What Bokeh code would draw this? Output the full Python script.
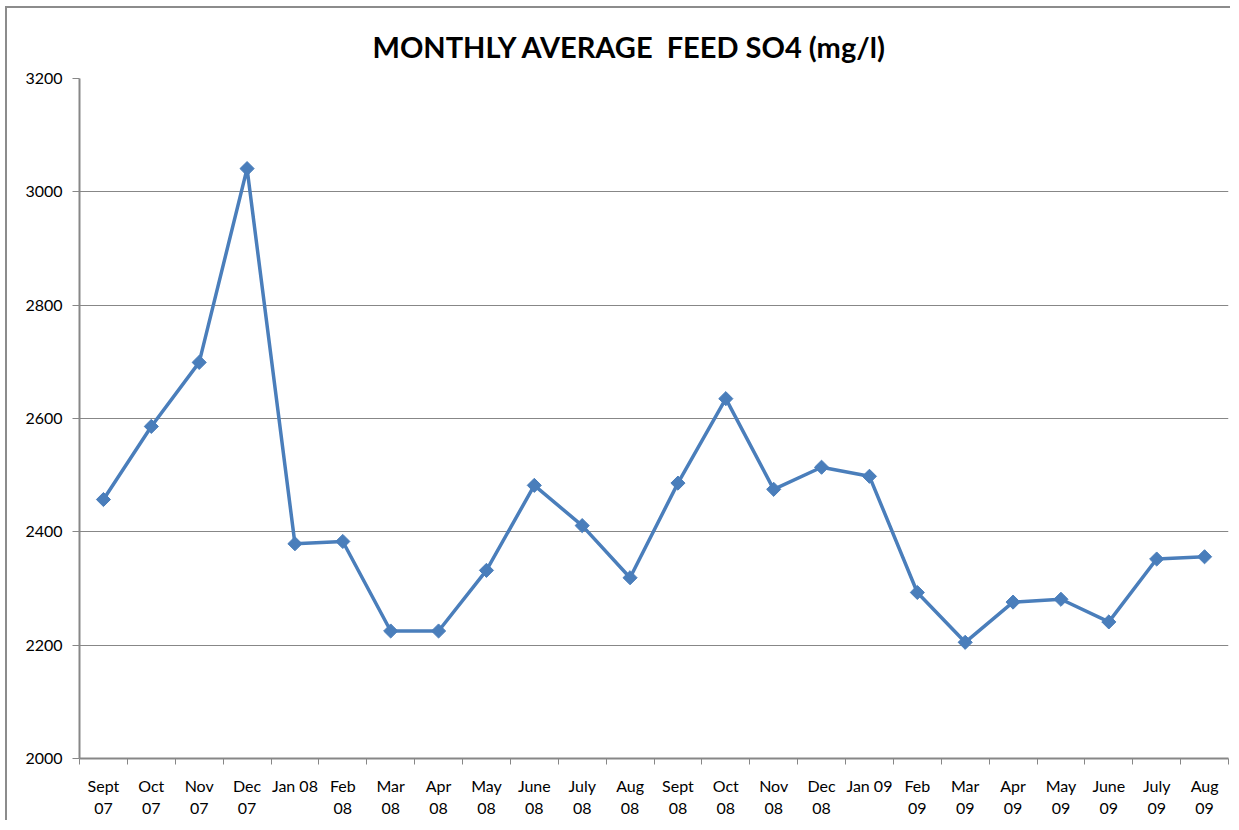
from bokeh.plotting import figure
from bokeh.models import FixedTicker, Range1d, Title, ColumnDataSource
from bokeh.embed import file_html
from bokeh.resources import INLINE

months = ["Sept\n07", "Oct\n07", "Nov\n07", "Dec\n07", "Jan 08", "Feb\n08", "Mar\n08", "Apr\n08",
          "May\n08", "June\n08", "July\n08", "Aug\n08", "Sept\n08", "Oct\n08", "Nov\n08", "Dec\n08",
          "Jan 09", "Feb\n09", "Mar\n09", "Apr\n09", "May\n09", "June\n09", "July\n09", "Aug\n09"]
so4 = [2457, 2586, 2699, 3041, 2379, 2383, 2225, 2225, 2332, 2482, 2411, 2319,
       2486, 2635, 2475, 2514, 2498, 2293, 2205, 2276, 2281, 2241, 2352, 2356]
y_ticks = [2000, 2200, 2400, 2600, 2800, 3000, 3200]
title = "MONTHLY AVERAGE\u00a0 FEED SO4 (mg/l)"

xs = [i + 0.5 for i in range(len(months))]
src = ColumnDataSource(dict(x=xs, y=so4))

FONT = "Lato"
GRAY = "#878787"
BLUE = "#4a7ebb"

p = figure(frame_width=1149, frame_height=680, output_backend="svg", toolbar_location=None,
           x_range=Range1d(0, len(months)), y_range=Range1d(2000, 3200),
           min_border_left=72, min_border_right=2, min_border_top=70, min_border_bottom=60)
p.styles = {"border-left": "2px solid #8c8c8c", "border-top": "2px solid #8c8c8c",
            "margin-left": "5px", "margin-top": "6px"}
p.outline_line_color = None
p.background_fill_color = "white"
p.border_fill_color = "white"

t = Title(text=title, align="left", offset=293,
          text_font=FONT, text_font_size="29px", text_font_style="bold", text_color="black",
          standoff=30)
p.add_layout(t, "above")

p.line("x", "y", source=src, line_color=BLUE, line_width=3.5)
p.scatter("x", "y", source=src, marker="square", angle=0.785398, size=10,
          fill_color=BLUE, line_color=BLUE)

# x axis
p.xaxis.ticker = FixedTicker(ticks=xs, minor_ticks=list(range(len(months) + 1)))
p.xaxis.major_label_overrides = {x: m for x, m in zip(xs, months)}
p.xaxis.major_tick_line_color = None
p.xaxis.minor_tick_line_color = GRAY
p.xaxis.minor_tick_out = 6
p.xaxis.minor_tick_in = 0
p.xaxis.major_label_standoff = 11
p.xaxis.axis_line_color = GRAY
p.xaxis.axis_line_width = 2
p.xaxis.major_label_text_font = FONT
p.xaxis.major_label_text_font_size = "16px"
p.xaxis.major_label_text_color = "black"
p.xaxis.major_label_text_align = "center"

# y axis
p.yaxis.ticker = FixedTicker(ticks=y_ticks, minor_ticks=[])
p.yaxis.axis_line_color = GRAY
p.yaxis.axis_line_width = 2
p.yaxis.major_tick_line_color = GRAY
p.yaxis.major_tick_out = 7
p.yaxis.major_tick_in = 0
p.yaxis.major_label_standoff = 10
p.yaxis.major_label_text_font = FONT
p.yaxis.major_label_text_font_size = "16px"
p.yaxis.major_label_text_color = "black"

p.xgrid.grid_line_color = None
p.ygrid.ticker = FixedTicker(ticks=y_ticks)
p.ygrid.grid_line_color = GRAY
p.ygrid.grid_line_width = 1

open("out.html", "w").write(file_html(p, INLINE))
